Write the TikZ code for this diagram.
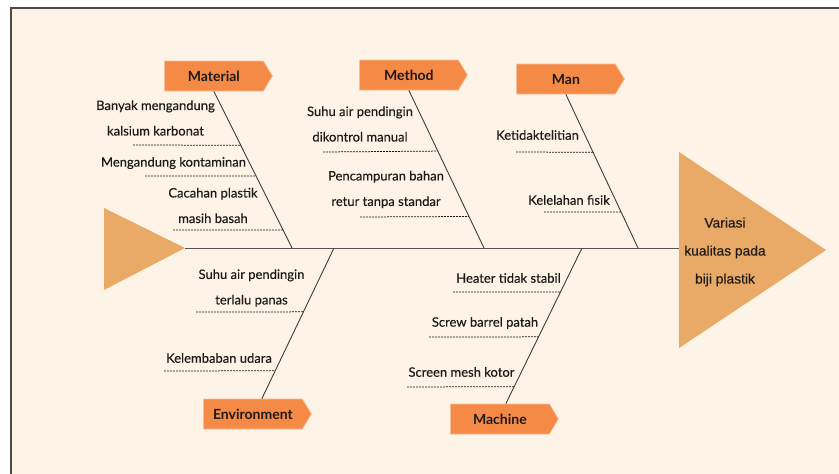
\documentclass[tikz,border=0pt]{standalone}
\usepackage{fontspec}
\setmainfont{Lato}
\newfontfamily\causefont[FakeBold=0.35]{Lato}
\newfontfamily\arialfont[FakeBold=0.3]{Liberation Sans}
\usetikzlibrary{shapes.symbols,calc}
\definecolor{paper}{RGB}{253,244,231}
\definecolor{fishtri}{RGB}{232,170,102}
\definecolor{catorange}{RGB}{245,137,70}
\definecolor{ink}{RGB}{30,26,24}

\begin{document}
\begin{tikzpicture}[x=1pt,y=-1pt,
  cat/.style={signal,signal to=east,signal pointer angle=118,fill=catorange,draw=catorange!55!white,line width=0.8pt,
    minimum width=108pt,minimum height=30pt,inner sep=0pt,anchor=west,text=ink,font=\bfseries\fontsize{14}{16}\selectfont},
  cause/.style={text=ink,align=center,inner sep=0pt,font=\causefont\fontsize{13}{25.5}\selectfont},
  bone/.style={draw=ink!85,line width=0.9pt},
  under/.style={draw=ink,line width=0.75pt,dash pattern=on 2pt off 1pt}]
\useasboundingbox (0,0) rectangle (839,474);
\fill [white] (0,0) rectangle (839,474);
\fill [paper] (11,8) rectangle (839,474);
\draw [ink!80,line width=2.2pt] (11,474) -- (11,8) -- (839,8);

% head and tail
\coordinate (tail) at (185,248);
\coordinate (head) at (679,248);
\fill [fishtri] (104,208) -- (tail) -- (104,290) -- cycle;
\fill [fishtri] (679,152) -- (826,250) -- (679,348) -- cycle;
\node [text=ink,align=center,font=\arialfont\fontsize{13.8}{28}\selectfont] (effect) at (725,252)
  {Variasi\\kualitas pada\\biji plastik};
\draw [bone,draw=ink!75] (tail) -- (head);

% categories
\node [cat] (mat) at (164,76) {Material};
\node [cat] (met) at (359,75) {Method};
\node [cat] (man) at (516,79) {Man};
\node [cat] (env) at (203,414) {Environment};
\node [cat] (mac) at (450,419) {Machine};

\coordinate (matB) at (292,248);
\coordinate (metB) at (484,248);
\coordinate (manB) at (638,248);
\coordinate (envB) at (334,248);
\coordinate (macB) at (582,248);
\draw [bone] (mat.south) -- (matB);
\draw [bone] (met.south) -- (metB);
\draw [bone] (man.south) -- (manB);
\draw [bone] ([xshift=9pt]env.north) -- (envB);
\draw [bone] ([xshift=6pt]mac.north) -- (macB);

% causes
\node [cause] (m1) at (155.5,118) {Banyak mengandung\\kalsium karbonat};
\node [cause] (m2) at (173.5,163) {Mengandung kontaminan};
\node [cause] (m3) at (213,205.5) {Cacahan plastik\\masih basah};
\draw [under] (133,145) -- ($(mat.south)!0.344!(matB)$);
\draw [under] (145,176) -- ($(mat.south)!0.541!(matB)$);
\draw [under] (173,230) -- ($(mat.south)!0.885!(matB)$);

\node [cause] (t1) at (360,124) {Suhu air pendingin\\dikontrol manual};
\node [cause] (t2) at (386,189.5) {Pencampuran bahan\\retur tanpa standar};
\draw [under] (323,152) -- ($(met.south)!0.385!(metB)$);
\draw [under] (360,217) -- ($(met.south)!0.8!(metB)$);

\node [cause] (p1) at (537.5,135) {Ketidaktelitian};
\node [cause] (p2) at (569,200) {Kelelahan fisik};
\draw [under] (516,152) -- ($(man.south)!0.377!(manB)$);
\draw [under] (544,212) -- ($(man.south)!0.766!(manB)$);

\node [cause] (e1) at (251.5,288) {Suhu air pendingin\\terlalu panas};
\node [cause] (e2) at (219,358) {Kelembaban udara};
\draw [under] (196,312) -- ($(envB)!0.424!([xshift=9pt]env.north)$);
\draw [under] (164,371) -- ($(envB)!0.815!([xshift=9pt]env.north)$);

\node [cause] (c1) at (508.5,278) {Heater tidak stabil};
\node [cause] (c2) at (485,323) {Screw barrel patah};
\node [cause] (c3) at (461.5,372) {Screen mesh kotor};
\draw [under] (453,292) -- ($(macB)!0.282!([xshift=6pt]mac.north)$);
\draw [under] (429,337) -- ($(macB)!0.571!([xshift=6pt]mac.north)$);
\draw [under] (407,387) -- ($(macB)!0.891!([xshift=6pt]mac.north)$);
\end{tikzpicture}
\end{document}
